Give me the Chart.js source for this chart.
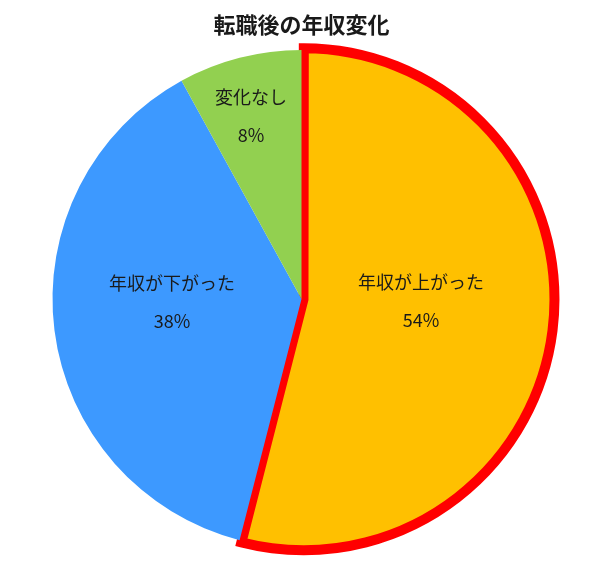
<!DOCTYPE html>
<html>
<head>
<meta charset="utf-8">
<script src="https://cdn.jsdelivr.net/npm/chart.js@4/dist/chart.umd.min.js"></script>
<style>
  html, body { margin: 0; padding: 0; background: #fff; }
  #wrap { width: 600px; height: 565px; }
</style>
</head>
<body>
<div id="wrap"><canvas id="grafica" width="600" height="565"></canvas></div>
<script>
//------------------Datos-------------------------------------------
var titulo = "転職後の年収変化";
var categorias = ["年収が上がった", "年収が下がった", "変化なし"];
var valores = [54, 38, 8];
var colores = ["#ffc000", "#3d99ff", "#92d050"];

//------------------Etiquetas dentro de cada porcion----------------
// (radio relativo, ajuste de angulo en grados)
var etiquetaRadio = [0.48, 0.52, 0.762];
var etiquetaGiro = [-6, 6, -1];

var etiquetas = {
    id: "etiquetas",
    afterDatasetsDraw: function(chart) {
        var ctx = chart.ctx;
        var meta = chart.getDatasetMeta(0);
        ctx.save();
        ctx.fillStyle = "#1a1a1a";
        ctx.font = "18px 'Noto Sans CJK JP', sans-serif";
        ctx.textAlign = "center";
        ctx.textBaseline = "middle";
        meta.data.forEach(function(arc, i) {
            var p = arc.getProps(["x", "y", "startAngle", "endAngle", "outerRadius"], true);
            var mid = (p.startAngle + p.endAngle) / 2 + etiquetaGiro[i] * Math.PI / 180;
            var r = p.outerRadius * etiquetaRadio[i];
            var x = p.x + Math.cos(mid) * r;
            var y = p.y + Math.sin(mid) * r;
            ctx.fillText(categorias[i], x, y - 19);
            ctx.fillText(valores[i] + "%", x, y + 19);
        });
        ctx.restore();
    }
};

dibujar();
function dibujar()
{
    var c = document.getElementById("grafica");
    const data = {
        labels: categorias,
        datasets: [{
            data: valores,
            backgroundColor: colores,
            borderColor: ["#ff0000", "#ffffff", "#ffffff"],
            borderWidth: [10, 0, 0],
            borderJoinStyle: "miter",
            offset: [8, 0, 0]
        }]
    };
    const config = {
        type: "pie",
        data: data,
        plugins: [etiquetas],
        options: {
            responsive: false,
            animation: false,
            radius: 249,
            layout: { padding: { top: 0, bottom: 10, left: 3, right: 0 } },
            plugins: {
                legend: false,
                tooltip: { enabled: false },
                title: {
                    display: true,
                    text: titulo,
                    color: "#1a1a1a",
                    font: { family: "'Noto Sans CJK JP', sans-serif", size: 22, weight: "bold" },
                    padding: { top: 11, bottom: 5.6 }
                }
            },
            events: []
        }
    };
    var chart = new Chart(c, config);
}
</script>
</body>
</html>
